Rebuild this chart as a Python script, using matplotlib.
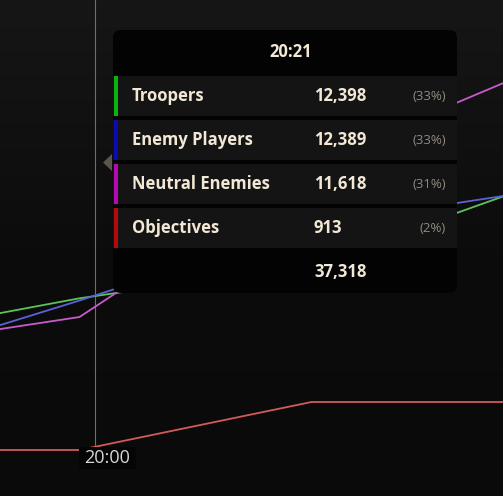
import numpy as np
import matplotlib
matplotlib.use("Agg")
import matplotlib.pyplot as plt
from matplotlib.patches import FancyBboxPatch, Rectangle, Polygon

# time in seconds, damage values
times = [1157, 1217, 1277, 1337]
troopers = [8886, 12159, 14700, 20970]
enemy_players = [6545, 11992, 17712, 20371]
neutral_enemies = [8076, 10742, 22333, 29750]
objectives = [667, 667, 4303, 4303]

series_names = ["Troopers", "Enemy Players", "Neutral Enemies", "Objectives"]
line_colors = ["#5cc35a", "#5a62d6", "#c95ac9", "#d25a5a"]
strip_colors = ["#0bb30b", "#0b0bb3", "#b30bb3", "#b30b0b"]

# tooltip values at hover
hover_time = "20:21"
hover_values = [12398, 12389, 11618, 913]
crosshair_t = 1221
crosshair_label = "20:00"

FONT = "Open Sans"
W, H = 503, 496
fig = plt.figure(figsize=(W / 100, H / 100), dpi=100)
fig.patch.set_facecolor("#0a0a0a")
ax = fig.add_axes([0, 0, 1, 1])
ax.set_facecolor("#0a0a0a")

s = 232 / 60.0
x0 = crosshair_t - 95 / s
ax.set_xlim(x0, x0 + W / s)
k = 0.0132
ax.set_ylim((458.8 - H) / k, 458.8 / k)
ax.axis("off")

# background gradient (lighter at top)
grad = np.linspace(0, 1, 200).reshape(-1, 1)
cmap = matplotlib.colors.LinearSegmentedColormap.from_list("bg", ["#0a0a0a", "#0c0c0c", "#161616"])
ax.imshow(grad, cmap=cmap, aspect="auto", origin="lower",
          extent=[x0, x0 + W / s, (458.8 - H) / k, 458.8 / k], zorder=0)

def px(xp, yp):
    # pixel (from top-left) to figure fraction
    return xp / W, 1 - yp / H

# crosshair
ax.axvline(crosshair_t, ymin=1 - 447 / H, ymax=1, color="#6e6e6e", lw=0.8, zorder=2)

for vals, c in zip([objectives, troopers, enemy_players, neutral_enemies],
                   [line_colors[3], line_colors[0], line_colors[1], line_colors[2]]):
    ax.plot(times, vals, color=c, lw=1.3, zorder=3)

# crosshair label
fig.patches.append(Rectangle(px(79, 469), 57 / W, 22 / H, transform=fig.transFigure,
                             facecolor="#050505", edgecolor="none", zorder=5))
fig.text(*px(84, 458), crosshair_label, color="#d6d6d6", fontsize=13,
         family=FONT, va="center", ha="left", zorder=6)

# tooltip
fig.patches.append(FancyBboxPatch(px(113, 293), 344 / W, 263 / H,
                                  boxstyle="round,pad=0,rounding_size=0.016",
                                  transform=fig.transFigure, facecolor="#030303",
                                  edgecolor="none", zorder=7))
fig.patches.append(Polygon([px(103, 162.5), px(112, 154), px(112, 171)], closed=True,
                           transform=fig.transFigure, facecolor="#5a564e",
                           edgecolor="none", zorder=7))
fig.text(*px(291, 52), hover_time, color="#f2e8d5", fontsize=12, weight="bold",
         family=FONT, ha="center", va="center", zorder=8)

total = sum(hover_values)
for i, (name, v, c) in enumerate(zip(series_names, hover_values, strip_colors)):
    top = 76 + i * 44
    fig.patches.append(Rectangle(px(113, top + 40), 344 / W, 40 / H,
                                 transform=fig.transFigure, facecolor="#141414",
                                 edgecolor="none", zorder=8))
    fig.patches.append(Rectangle(px(114, top + 40), 4 / W, 40 / H,
                                 transform=fig.transFigure, facecolor=c,
                                 edgecolor="none", zorder=9))
    yc = top + 20
    fig.text(*px(132, yc), name, color="#f2e8d5", fontsize=12, weight="bold",
             family=FONT, ha="left", va="center", zorder=10)
    fig.text(*px(314, yc), f"{v:,}", color="#f2e8d5", fontsize=12, weight="bold",
             family=FONT, ha="left", va="center", zorder=10)
    fig.text(*px(446, yc), f"({round(100 * v / total)}%)", color="#8f8a80",
             fontsize=9.5, family=FONT, ha="right", va="center", zorder=10)

fig.text(*px(314, 272), f"{total:,}", color="#f2e8d5", fontsize=12, weight="bold",
         family=FONT, ha="left", va="center", zorder=10)

fig.savefig("out.png", dpi=100, facecolor=fig.get_facecolor())
